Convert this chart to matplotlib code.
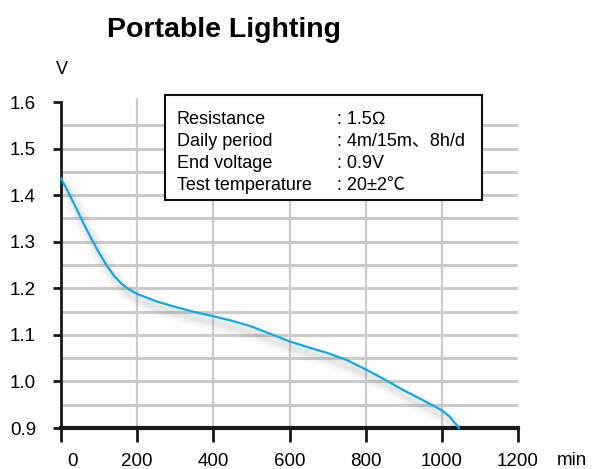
import matplotlib
matplotlib.use("Agg")
import matplotlib.pyplot as plt
import matplotlib.patches as patches
import matplotlib.transforms as mtransforms

plt.rcParams["font.family"] = ["Liberation Sans", "DejaVu Sans"]

# discharge curve
minutes = [0, 20, 40, 60, 80, 100, 120, 140, 160, 180, 200, 250, 300, 350, 400, 450, 500,
           550, 600, 650, 700, 750, 800, 850, 900, 950, 1000, 1020, 1035, 1045]
voltage = [1.436, 1.405, 1.372, 1.338, 1.306, 1.276, 1.249, 1.226, 1.209, 1.197, 1.188,
           1.172, 1.16, 1.149, 1.14, 1.13, 1.118, 1.102, 1.086, 1.073, 1.061, 1.046,
           1.026, 1.004, 0.981, 0.96, 0.938, 0.925, 0.91, 0.9]

xticks = [0, 200, 400, 600, 800, 1000, 1200]
yticks = [0.9, 1.0, 1.1, 1.2, 1.3, 1.4, 1.5, 1.6]
ygrid = [0.95, 1.0, 1.05, 1.1, 1.15, 1.2, 1.25, 1.3, 1.35, 1.4, 1.45, 1.5, 1.55]
xgrid = [200, 400, 600, 800, 1000]

labels = ["Resistance", "Daily period", "End voltage", "Test temperature"]
values = [": 1.5\u2126", ": 4m/15m\u30018h/d", ": 0.9V", ": 20\u00b12\u2103"]

W, H = 593, 469
fig = plt.figure(figsize=(W / 100, H / 100), dpi=100)
ax = fig.add_axes([61 / W, 1 - 428 / H, (518 - 61) / W, (428 - 102) / H])

for y in ygrid:
    ax.axhline(y, color="#cbcbcd", lw=2.2, zorder=1)
for x in xgrid:
    ax.axvline(x, color="#cbcbcd", lw=1.6, zorder=1, ymax=1.01, clip_on=False)

# soft gray shadow under the curve
off = mtransforms.ScaledTranslation(4 / 100, -7 / 100, fig.dpi_scale_trans)
for lw, a in [(12, 0.05), (8, 0.07), (4.5, 0.10)]:
    ax.plot(minutes, voltage, color="#909090", lw=lw, alpha=a,
            transform=ax.transData + off, zorder=2, solid_capstyle="round")

ax.plot(minutes, voltage, color="#15a8e0", lw=1.6, zorder=3, clip_on=False)

ax.set_xlim(0, 1200)
ax.set_ylim(0.9, 1.6)
ax.set_xticks(xticks)
ax.set_yticks(yticks)
ax.set_xticklabels([str(v) for v in xticks])
ax.set_yticklabels(["%.1f" % v for v in yticks])
ax.tick_params(axis="both", direction="out", width=2, color="#1a1a1a", labelsize=13.5)
ax.tick_params(axis="x", length=10, pad=8)
ax.tick_params(axis="y", length=6, pad=12)
# the "0" label sits to the right of its tick
lbl0 = ax.get_xticklabels()[0]
lbl0.set_transform(lbl0.get_transform() + mtransforms.ScaledTranslation(12 / 100, 0, fig.dpi_scale_trans))

for s in ["top", "right"]:
    ax.spines[s].set_visible(False)
ax.spines["left"].set_linewidth(2)
ax.spines["bottom"].set_linewidth(3)
ax.spines["left"].set_color("#1a1a1a")
ax.spines["bottom"].set_color("#1a1a1a")

fig.text(224 / W, 1 - 30 / H, "Portable Lighting", fontsize=20.5, fontweight="bold",
         ha="center", va="center")
fig.text(62 / W, 1 - 70 / H, "V", fontsize=13, ha="center", va="center")
fig.text(572 / W, 1 - 460 / H, "min", fontsize=13.5, ha="center", va="center")

box = patches.Rectangle((165 / W, 1 - 200 / H), (482 - 165) / W, (200 - 95) / H,
                        transform=fig.transFigure, facecolor="white", edgecolor="#111111",
                        lw=1.5, zorder=5)
fig.add_artist(box)
for i, (lab, val) in enumerate(zip(labels, values)):
    y = 1 - (119 + i * 22) / H
    fig.text(177 / W, y, lab, fontsize=13, va="center", ha="left", zorder=6)
    fig.text(337 / W, y, val, fontsize=13, va="center", ha="left", zorder=6,
             family=["Liberation Sans", "Noto Sans CJK JP", "DejaVu Sans"])

fig.savefig("out.png", dpi=100)
